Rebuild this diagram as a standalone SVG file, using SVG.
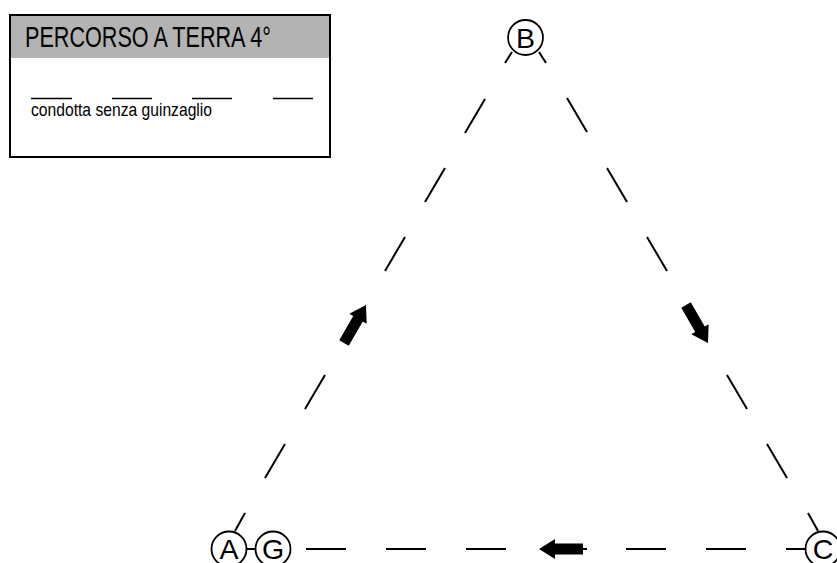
<svg xmlns="http://www.w3.org/2000/svg" width="837" height="563" viewBox="0 0 837 563">
<style>
  .dash { stroke: #000; stroke-width: 2; fill: none; stroke-linecap: butt; }
  .blank { stroke: #000; stroke-width: 1.4; }
  .node circle { fill: #fff; stroke: #000; stroke-width: 1.8; }
  .node text { font-family: "Liberation Sans", Arial, sans-serif; font-size: 28.5px; text-anchor: middle; fill: #000; }
  .title { font-family: "Liberation Sans", Arial, sans-serif; font-size: 29px; fill: #000; }
  .sub { font-family: "Liberation Sans", Arial, sans-serif; font-size: 18.5px; fill: #000; }
</style>
<defs>
  <path id="arr" d="M0,0 L16,-10 L16,-5.5 L44,-5.5 L44,5.5 L16,5.5 L16,10 Z" fill="#000"/>
</defs>
<rect width="837" height="563" fill="#fff"/>

<g id="legend">
  <rect x="10" y="15" width="320" height="142" fill="#fff" stroke="none"/>
  <rect x="10" y="15" width="320" height="43" fill="#b3b3b3"/>
  <rect x="10" y="15" width="320" height="142" fill="none" stroke="#000" stroke-width="2"/>
  <text class="title" x="25" y="46.5" textLength="246" lengthAdjust="spacingAndGlyphs">PERCORSO A TERRA 4°</text>
  <line class="blank" x1="31" y1="98.5" x2="72" y2="98.5"/>
  <line class="blank" x1="112" y1="98.5" x2="152" y2="98.5"/>
  <line class="blank" x1="192" y1="98.5" x2="232" y2="98.5"/>
  <line class="blank" x1="273" y1="98.5" x2="313" y2="98.5"/>
  <text class="sub" x="31" y="115.5" textLength="181" lengthAdjust="spacingAndGlyphs">condotta senza guinzaglio</text>
</g>

<g id="connectors">
  <!-- left side A -> B -->
  <line class="dash" x1="512" y1="52" x2="505" y2="63"/>
  <line class="dash" x1="485" y1="99" x2="465" y2="133"/>
  <line class="dash" x1="445" y1="168" x2="425" y2="202"/>
  <line class="dash" x1="405" y1="237" x2="385" y2="271"/>
  <use href="#arr" transform="translate(366,305) rotate(120)"/>
  <line class="dash" x1="325" y1="375" x2="305" y2="409"/>
  <line class="dash" x1="285" y1="444" x2="265" y2="478"/>
  <line class="dash" x1="245" y1="513" x2="235" y2="531"/>
  <!-- right side B -> C -->
  <line class="dash" x1="539" y1="52" x2="546" y2="63"/>
  <line class="dash" x1="567" y1="98" x2="587" y2="132"/>
  <line class="dash" x1="607" y1="168" x2="627" y2="202"/>
  <line class="dash" x1="647" y1="237" x2="667" y2="271"/>
  <use href="#arr" transform="translate(708,343) rotate(-120)"/>
  <line class="dash" x1="727" y1="375" x2="747" y2="409"/>
  <line class="dash" x1="767" y1="444" x2="787" y2="478"/>
  <line class="dash" x1="808" y1="513" x2="818" y2="531"/>
  <!-- bottom C -> A -->
  <line class="dash" x1="246" y1="549" x2="256" y2="549"/>
  <line class="dash" x1="306" y1="549" x2="346" y2="549"/>
  <line class="dash" x1="386" y1="549" x2="426" y2="549"/>
  <line class="dash" x1="466" y1="549" x2="506" y2="549"/>
  <use href="#arr" transform="translate(539,549)"/>
  <line class="dash" x1="582" y1="549" x2="587" y2="549"/>
  <line class="dash" x1="626" y1="549" x2="666" y2="549"/>
  <line class="dash" x1="706" y1="549" x2="746" y2="549"/>
  <line class="dash" x1="786" y1="549" x2="806" y2="549"/>
</g>

<g id="node-B" class="node">
  <circle cx="525.5" cy="37.5" r="17.5"/>
  <text x="525.5" y="47.5">B</text>
</g>
<g id="node-A" class="node">
  <circle cx="229" cy="549" r="17.5"/>
  <text x="229" y="559">A</text>
</g>
<g id="node-G" class="node">
  <circle cx="273" cy="549" r="17.5"/>
  <text x="273" y="559">G</text>
</g>
<g id="node-C" class="node">
  <circle cx="823" cy="549" r="17.5"/>
  <text x="823" y="559">C</text>
</g>
</svg>
